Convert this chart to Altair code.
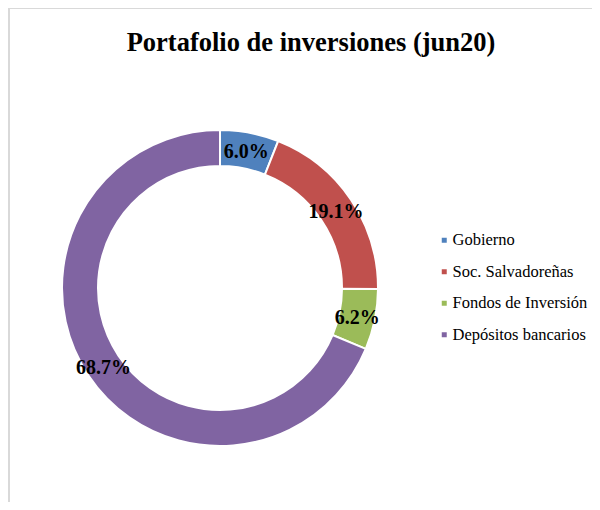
import altair as alt
import pandas as pd

# ---- data ----
titulo = "Portafolio de inversiones (jun20)"
categorias = ["Gobierno", "Soc. Salvadoreñas", "Fondos de Inversión", "Depósitos bancarios"]
valores = [6.0, 19.1, 6.2, 68.7]
colores = ["#4F81BD", "#C0504D", "#9BBB59", "#8064A2"]

df = pd.DataFrame({
    "categoria": categorias,
    "valor": valores,
    "orden": list(range(len(categorias))),
    "etiqueta": [f"{v:.1f}%" for v in valores],
})

W, H = 584, 494
CX, CY = 212, 280
SERIF = "Liberation Serif"

base = alt.Chart(df).encode(
    theta=alt.Theta("valor:Q", stack=True),
    order=alt.Order("orden:Q"),
)

arcos = base.mark_arc(
    outerRadius=158, innerRadius=122, stroke="white", strokeWidth=2
).encode(
    x=alt.value(CX),
    y=alt.value(CY),
    color=alt.Color(
        "categoria:N",
        scale=alt.Scale(domain=categorias, range=colores),
        legend=alt.Legend(
            title=None,
            orient="none",
            legendX=428,
            legendY=224,
            symbolType="square",
            symbolSize=25,
            symbolStrokeWidth=0,
            labelFont=SERIF,
            labelFontSize=16.5,
            labelColor="black",
            labelOffset=0,
            rowPadding=14.5,
            padding=0,
        ),
    ),
)

etiquetas = base.mark_text(
    radius=140, font=SERIF, fontSize=20, fontWeight="bold", color="black", dy=2
).encode(
    x=alt.value(CX),
    y=alt.value(CY),
    text="etiqueta:N",
)

uno = pd.DataFrame({"t": [titulo]})
titulo_mk = alt.Chart(uno).mark_text(
    font=SERIF, fontSize=26.5, fontWeight="bold", color="black",
    align="center", baseline="alphabetic"
).encode(text="t:N", x=alt.value(303), y=alt.value(43))

borde_izq = alt.Chart(uno).mark_rule(color="#d9d9d9", strokeWidth=2).encode(
    x=alt.value(1), y=alt.value(0), y2=alt.value(H + 10)
)
borde_sup = alt.Chart(uno).mark_rule(color="#d9d9d9", strokeWidth=2).encode(
    y=alt.value(0), x=alt.value(0), x2=alt.value(W)
)

chart = alt.layer(borde_izq, borde_sup, arcos, etiquetas, titulo_mk).properties(
    width=W, height=H, padding=0, autosize=alt.AutoSizeParams(type="none"),
    background="white",
).configure_view(stroke=None).configure_legend(
    labelFont=SERIF, labelFontSize=16.5, labelColor="black"
)

chart.save("out.html", embed_options={"renderer": "svg", "actions": False})
